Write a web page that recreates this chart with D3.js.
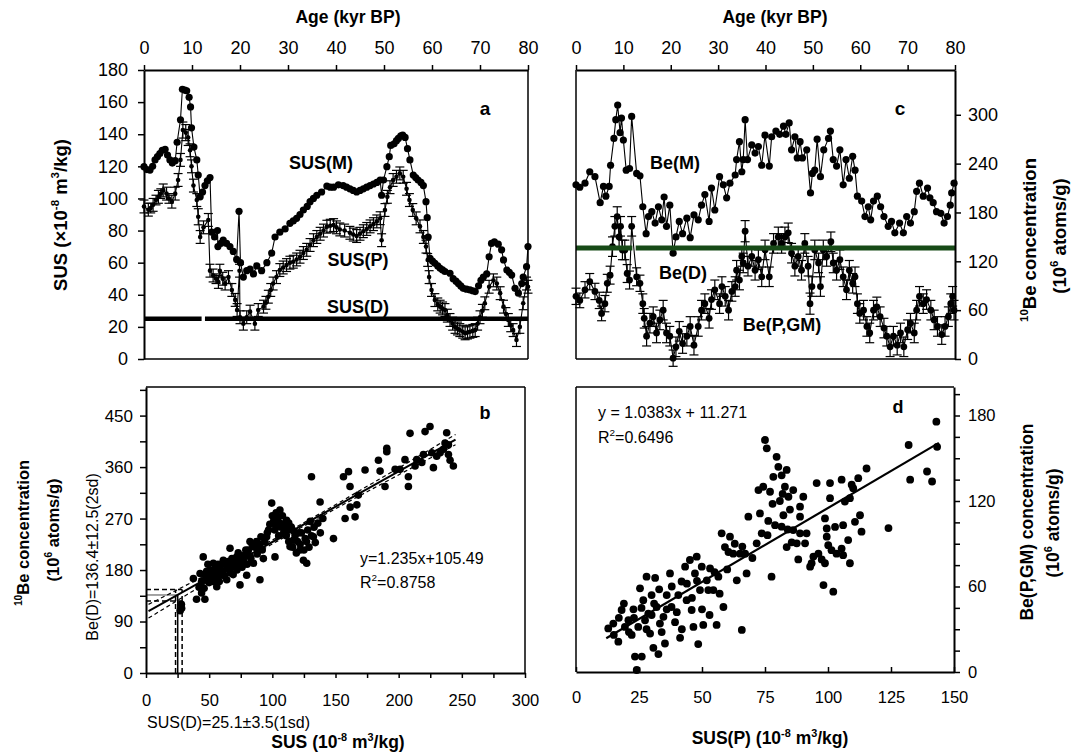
<!DOCTYPE html>
<html>
<head>
<meta charset="utf-8">
<script src="https://cdn.jsdelivr.net/npm/d3@7"></script>
<style>
body { margin: 0; background: #fff; }
</style>
</head>
<body>
<div id="canvas"></div>
<script>
// ---- data ----
// panel a: SUS(M) [age kyr, value]
var susM = [[0,119.8],[0.6,118],[1.25,117.7],[1.8,120],[2.3,124],[2.8,126],[3.3,128],[3.8,130],[4.4,130.6],[4.9,127],[5.4,124],[5.9,122],[6.5,123.5],[6.9,135],[7.6,149],[8.0,168],[8.5,167.5],[8.9,167],[9.4,163],[9.7,157],[9.9,144],[10.4,132],[11,124],[11.3,114.6],[11.7,101],[12.2,104],[12.7,108],[13.2,111],[13.75,113],[14.1,79],[14.7,76],[15.3,80],[15.4,70],[16,72],[16.5,74],[17.2,72],[17.9,70],[18.6,67],[19.3,62],[19.8,92],[20.1,60],[20.7,51],[21.4,55],[22.1,56],[22.8,53],[23.5,58],[24.5,55],[25.6,60],[26.6,66],[27.3,76],[28.3,79],[29.4,81],[30.4,84.5],[31.1,86],[31.8,87.6],[32.5,90],[33.2,92.8],[34,95],[34.6,98],[35.3,100],[36,102],[37,104],[38.1,107.7],[38.8,107],[39.5,107],[40.5,108.5],[41.5,108],[42.2,107],[42.9,106],[43.6,105],[44.3,104],[45,105],[45.7,106],[46.4,107],[47.1,108],[47.8,109],[48.5,110],[49.2,111.5],[49.5,102],[49.9,111.5],[50.6,119.8],[51.1,126],[51.4,133],[52.1,134],[52.6,136],[53,137.4],[53.5,139],[53.9,139.5],[54.4,138],[54.9,131],[55.4,124],[56.1,114.6],[56.6,113],[57.1,111.5],[57.7,110],[58.2,108],[58.75,98],[59,88],[59.2,76],[59.6,62.7],[60.1,61],[60.6,59.6],[61.2,58],[61.7,56.5],[62.2,55.5],[62.7,54.5],[63.75,53.4],[64.4,50],[65,48.5],[65.5,47],[66,45.5],[66.5,44],[67.2,43.5],[67.9,43],[68.5,42.5],[69,42],[69.7,45.6],[70.2,49],[70.7,51],[71.4,53],[71.9,63.7],[72.4,72],[73,73],[73.8,71.5],[74.5,68],[74.9,61.7],[75.6,55.4],[76.1,54],[76.6,52.3],[77.3,44],[78,41],[78.7,47],[79,51],[79.7,57.5],[80,70]];

// panel a: SUS(P) [age, value, error]
var susP = [[0,95,4],[0.9,93,4],[1.4,94,3],[1.9,96,4],[2.5,99,3],[3,101,4],[3.5,103,3],[4,105,4],[4.7,103,4],[5.2,100,3],[5.8,98,4],[6.5,103,4],[7.1,111.5,4],[7.6,124,4],[8.1,142.6,5],[8.7,141,5],[9.2,138,5],[9.6,130,4],[9.9,120,4],[10.3,108,4],[11,99,4],[11.3,88.6,5],[11.7,76,4],[12.4,82,4],[13.4,86.6,4],[13.75,55,4],[14.4,52,4],[15,50,3],[15.5,48,4],[15.8,55,4],[16.4,50,4],[16.9,47,4],[17.6,51,4],[18.3,43,4],[19,36.8,4],[19.4,30.5,4],[19.9,55,4],[20,26,4],[20.7,22,4],[21.4,26,4],[22.1,29.5,4],[23.1,22,4],[23.8,30.5,4],[24.9,32.6,4],[25.4,35,4],[25.9,38.8,4],[26.4,43,4],[26.9,47,4],[27.6,51,4],[28.3,55.4,4],[29,57,4],[29.7,58.5,4],[30.4,60,4],[31.1,60.6,4],[31.8,62,4],[32.5,63.7,4],[33.2,66,4],[33.9,68,4],[34.6,71,4],[35.3,74,4],[36,76,4],[36.7,78,4],[37.4,80,4],[38.1,82.4,4],[38.8,83,4],[39.5,83.4,4],[40.1,82,4],[40.8,80.7,4],[41.8,80,4],[42.9,78.6,4],[43.6,77.5,4],[44.3,76.6,4],[45,78,4],[45.7,79.6,4],[46.4,81,4],[47.1,82.6,4],[47.8,84,4],[48.5,85.7,4],[49.2,87.7,4],[49.5,74,4],[50.2,92.8,4],[50.7,101,4],[51.25,107,4],[51.9,111.5,4],[52.6,113.5,4],[53.3,115.6,4],[54,113.5,4],[54.7,106,4],[55.3,99,4],[56,92.8,4],[56.7,87.6,4],[57.5,82.6,4],[58.2,76,4],[58.75,70,4],[59.1,61.7,4],[59.4,51,4],[59.9,43,4],[60.6,36.7,4],[61.2,34,4],[61.7,32.6,4],[62.2,31.5,4],[62.7,30.5,4],[63.2,27,4],[63.75,24.3,4],[64.3,22,4],[64.8,20,4],[65.3,19,4],[65.8,18,4],[66.4,17,4],[66.9,16,4],[67.4,16.5,4],[67.9,17,4],[68.5,17.5,4],[69,18,4],[69.5,22,4],[70,26,4],[70.5,30,4],[71,34.7,4],[71.9,45,4],[72.8,49,4],[73.5,47,4],[74.2,41,4],[74.9,32.6,4],[75.4,28,4],[75.9,24.3,4],[76.4,21,4],[76.9,18,4],[77.6,11.8,4],[78.3,20,4],[79,34.7,4],[79.7,47,4],[80,45,4]];

var susD = 25.1;                       // SUS(D)
var susDSegments = [[0, 12], [12.7, 80]];

// panel c: Be(M) [age, value]
var beM = [[0,214],[0.8,211],[1.9,216],[2.9,230],[4,224],[5.1,192],[5.8,212],[6.3,200],[7,212],[7.3,238],[8,271],[8.4,294],[8.8,312],[9.3,278],[9.6,296],[10,269],[10.6,232],[11.3,234],[11.75,298],[12.8,228],[13.5,225],[14.1,187],[14.8,154],[15.3,175],[16,181],[16.7,167],[17.4,187],[18.1,171],[18.6,199],[19.1,163],[19.8,189],[20.5,130],[21.1,150],[21.8,169],[22.5,154],[23.4,173],[24.1,149],[24.9,177],[25.8,171],[26.5,189],[27.2,202],[28.1,169],[28.6,210],[29.3,183],[30.3,224],[31.1,214],[31.8,198],[32.5,216],[33.6,226],[33.9,245],[34.5,267],[35,230],[35.3,245],[35.7,294],[36.2,245],[37.1,263],[37.8,253],[38.5,261],[39.2,238],[39.9,275],[40.8,237],[41.3,273],[42.2,280],[43,276],[43.8,286],[44.3,276],[45,290],[45.5,257],[46.2,273],[46.7,247],[47.3,267],[47.8,247],[48.7,257],[49.5,204],[49.9,228],[50.4,232],[50.9,270],[51.6,224],[52.3,257],[53.3,271],[53.7,280],[54.3,245],[55,237],[55.7,257],[56.4,214],[57,245],[57.7,222],[58.4,249],[58.9,232],[59.4,200],[60.3,194],[61,175],[61.7,187],[62.2,171],[62.8,194],[63.6,200],[64.3,187],[65,175],[65.9,163],[66.6,169],[67.3,155],[68.3,167],[69.1,155],[69.8,175],[70.6,167],[71.4,181],[71.9,206],[72.5,216],[73.3,200],[74.2,210],[74.7,198],[75.4,192],[76.1,181],[77,179],[77.7,167],[78.4,175],[79,189],[79.3,204],[79.8,216]];

// panel c: Be(P,GM) [age, value, error]
var beP = [[0,77,10],[0.8,72,9],[1.9,85,10],[2.9,95,10],[4,83,10],[4.9,72,10],[5.4,56,9],[6.1,68,10],[6.6,93,11],[7.2,103,11],[7.7,138,12],[8.2,163,12],[8.7,175,12],[9.1,150,12],[9.4,163,12],[9.8,134,12],[10.3,134,12],[10.8,105,11],[11.3,97,11],[11.75,163,12],[12.8,101,11],[13.5,93,10],[14.1,68,12],[14.4,50,12],[14.9,28,12],[15.6,44,12],[16.3,52,12],[17,32,12],[17.7,48,12],[18.4,60,12],[19.1,32,12],[19.8,28,12],[20.5,1,10],[21.1,15,12],[21.8,34,12],[22.5,19,12],[23.4,28,12],[24.1,40,12],[24.9,17,12],[25.8,40,12],[26.5,60,12],[27.2,68,12],[28.1,50,12],[28.6,73,12],[29.3,85,12],[30.3,68,12],[30.8,89,12],[31.5,77,12],[32.2,60,12],[32.9,83,12],[33.6,89,12],[33.9,109,12],[34.5,97,12],[35,126,12],[35.3,118,12],[35.7,157,13],[36.3,114,12],[37.1,126,12],[37.8,109,12],[38.5,122,12],[39.2,101,12],[39.9,134,12],[40.8,101,12],[41.7,142,12],[42.7,150,12],[43.4,142,12],[44.1,150,12],[44.8,155,12],[45.5,130,12],[46.2,114,12],[46.9,126,12],[47.6,109,12],[48.3,142,12],[49,114,12],[49.4,68,13],[49.8,89,12],[50.4,134,12],[51.2,118,12],[51.6,89,12],[52.2,134,12],[52.9,126,12],[53.8,144,12],[54.3,118,12],[55,109,12],[55.7,122,12],[56.4,101,12],[57.1,85,12],[57.7,109,12],[58.4,93,12],[58.9,101,12],[59.4,68,12],[59.9,56,12],[60.7,60,12],[61.4,40,12],[62,32,12],[62.8,60,12],[63.5,64,12],[64.2,52,12],[65,38,12],[65.6,28,12],[66.3,15,12],[67,28,12],[67.8,17,12],[68.5,32,12],[69.2,15,12],[70,36,12],[70.6,44,12],[71.4,32,12],[71.9,60,12],[72.5,77,12],[73.3,68,12],[74,73,12],[74.9,60,12],[75.6,48,12],[76.3,40,12],[77.2,30,12],[77.9,40,12],[78.6,52,12],[79.1,68,12],[79.5,77,12],[79.8,60,12]];

var beD = 136.4;                       // Be(D)
var beDSegments = [[0, 11.9], [12.6, 80]];

// panel b: SUS vs 10Be [x, y]
var scatterB = [[27,109],[28,120],[28.2,113],[37.5,165],[40,129],[42,150],[42.8,174],[44,160],[44,140],[45.3,203],[46,148],[46.6,129],[47,170],[48,163],[48,178],[49,190],[50,158],[50.7,180],[51,172],[52,168],[53,160],[53.3,192],[54,175],[55,185],[55,170],[56,151],[57,165],[57,190],[58,160],[58.6,174],[59,180],[60,190],[61,178],[61.2,197],[62,170],[63,190],[63.9,163],[64,182],[65,195],[66,185],[66.5,218],[67,175],[68,200],[69,172],[69.2,186],[70,192],[71,195],[71.8,203],[72,180],[73,210],[74,188],[74.4,154],[75,195],[76,185],[76,205],[77,197],[78,205],[79,215],[79.7,171],[80,190],[81,215],[82,205],[82.3,230],[83,200],[84,225],[85,192],[86,220],[87.6,230],[88,208],[89,215],[90.2,163],[90,225],[91,238],[92.9,200],[92,215],[94,230],[95.5,238],[96,245],[97,250],[98,260],[99.5,297],[100.8,262],[100,275],[101,265],[102.1,203],[102,250],[103.4,256],[103,280],[104,270],[105,240],[106,285],[106,262],[107,255],[108.7,244],[108,275],[109,255],[110,260],[111.3,267],[111,240],[112,250],[113,230],[113,262],[114,221],[115,255],[116.6,232],[116,220],[117,248],[118,240],[119,210],[120,230],[121,245],[121.9,215],[122,225],[123,245],[124.6,197],[125,215],[126,235],[127.2,192],[127,230],[128,250],[129,220],[130,265],[131,343],[131,240],[132.5,238],[133,255],[134,228],[136,262],[137.8,299],[138,245],[140,270],[148.4,235],[156.3,343],[157.6,270],[160.3,352],[161.6,290],[161.5,326],[165.5,273],[166.9,294],[168.1,311],[173.4,355],[184,372],[185.3,353],[189.2,326],[190.6,393],[190.6,387],[197.2,356],[201.1,356],[205,373],[207.7,343],[207.7,326],[209,419],[213,362],[214.3,373],[218.3,368],[219.6,382],[220.9,422],[224.8,431],[226.2,385],[227.5,359],[230.1,379],[232.8,385],[235.4,391],[236.7,402],[238,420],[239.4,399],[239.4,382],[240.7,372],[243.3,362]];
var fitB = [1.235, 105.49];            // slope, intercept
var fitBRange = [2, 245];
var bandBX = [2, 60, 120, 180, 245];   // half width of the dashed band
var bandBHalf = [12, 6, 3, 5, 9];
var beDBand = [126, 146];
var susDBand = [23.4, 28.6];

// panel d: SUS(P) vs Be(P,GM) [x, y]
var scatterD = [[12.8,30.6],[14.8,34],[15,26],[16.8,21.3],[17,38],[18.1,43.5],[19,48],[19.4,31.6],[20.8,36.3],[21,28],[22.1,26],[22.8,44],[23,38],[23.4,10.8],[24.1,1.4],[24.7,31.6],[25.4,58.7],[26,45],[26.1,10.8],[26.7,50.4],[27.4,36.3],[28,66.9],[28,30],[28.7,41],[29.4,27],[30,54],[30,40],[30.7,17],[31,48],[31.4,66],[32,45.6],[32.7,12.6],[33,58],[33.3,34],[34,28],[34.7,38.7],[35.3,20],[36,54],[36,44],[37.3,69.2],[37.9,45.6],[38,60],[39.3,35],[40,42],[40.6,54],[41.3,24],[41.9,63.5],[42,30],[43.3,73.9],[43.9,50.4],[44,62],[45.2,78.6],[45.9,43.5],[46,52],[46.6,31.6],[47.2,69.2],[47.9,80.9],[48,64],[48.5,19.6],[49.2,57.5],[49.9,73.9],[50,44],[50.5,33],[51.9,64.3],[52.5,57.5],[53,40],[53.2,72.7],[54.5,57.5],[55,70],[55.8,33],[56.5,66.9],[57,55],[57.8,97.3],[58.5,45.6],[59.1,87.7],[60,72],[60.5,84.2],[61.1,95],[62.4,83],[63,90],[63.8,64.3],[65.1,83],[65.8,29.5],[66,88],[67.1,83],[67.7,69.2],[68.4,109],[70,80],[71.7,90.3],[72.4,127.7],[73,111.3],[73.7,97.3],[74.3,130],[75,162.8],[75.7,157],[76,96],[76.3,106],[77,126.5],[77.6,66.9],[78,118],[78.3,137],[79,103],[79.6,151],[80.3,144],[80.9,120],[81.6,138],[81.6,102],[82,125],[82.3,110],[82.9,130],[83.6,141.8],[83.6,87.7],[84,100],[84.3,123],[84.9,114],[85.6,91],[86.2,127.7],[86.2,99.6],[87.6,90.3],[88.2,79],[88.9,116],[88.9,97.3],[88.9,109],[90.2,123],[90.9,90.3],[91.5,97.3],[92.9,73.9],[93.5,76.3],[94.2,81],[95.5,132.6],[96.2,83],[97.5,79],[98.2,61],[98.8,76.3],[98.8,107.8],[99.5,100.7],[99.5,95],[100.1,89],[100.8,132.6],[100.8,122],[101.4,85.5],[102.1,56.4],[102.8,101.8],[103.4,83],[105.4,86.6],[105.4,135],[106,103],[106,82],[106.7,119.6],[108,92.6],[108.7,76.3],[108.7,122],[109.4,131.4],[110,129],[110.7,105.4],[112,136],[112.7,110],[113.3,98.5],[115.3,142.8],[124,101],[132,159.3],[132.6,135],[139.3,140.7],[141.3,133.7],[143,175.7],[143.3,158]];
var fitD = [1.0383, 11.271];
var fitDRange = [12, 144];

// tick values
var ageTicks = [0, 10, 20, 30, 40, 50, 60, 70, 80];
var susTicks = [0, 20, 40, 60, 80, 100, 120, 140, 160, 180];
var beTicksC = [0, 60, 120, 180, 240, 300];
var bXTicks = [0, 25, 50, 75, 100, 125, 150, 175, 200, 225, 250, 275, 300];
var bXLabels = [0, 50, 100, 150, 200, 250, 300];
var bYTicks = [0, 45, 90, 135, 180, 225, 270, 315, 360, 405, 450, 495];
var bYLabels = [0, 90, 180, 270, 360, 450];
var dXTicks = [0, 25, 50, 75, 100, 125, 150];
var dYTicks = [0, 15, 30, 45, 60, 75, 90, 105, 120, 135, 150, 165, 180, 195];
var dYLabels = [0, 60, 120, 180];

// ---- drawing ----
var font = '"Liberation Sans", Arial, Helvetica, sans-serif';
var svg = d3.select("#canvas").append("svg")
    .attr("width", 1071)
    .attr("height", 755)
    .style("font-family", font);

function styleAxis(g, size) {
    g.selectAll("text").attr("font-size", size).attr("font-family", font).attr("fill", "#000");
    g.selectAll(".tick line").attr("stroke", "#000").attr("stroke-width", 1.5);
    g.select(".domain").attr("stroke", "#000").attr("stroke-width", 2);
}

function hline(x1, x2, y, w, dash, col) {
    svg.append("line").attr("x1", x1).attr("x2", x2).attr("y1", y).attr("y2", y)
        .attr("stroke", col || "#000").attr("stroke-width", w).attr("stroke-dasharray", dash || null);
}
function vline(x, y1, y2, w, dash) {
    svg.append("line").attr("x1", x).attr("x2", x).attr("y1", y1).attr("y2", y2)
        .attr("stroke", "#000").attr("stroke-width", w).attr("stroke-dasharray", dash || null);
}

// text with superscripts: parts = [[str, isSup], ...]
function rich(x, y, parts, size, opts) {
    opts = opts || {};
    var t = svg.append("text")
        .attr("font-size", size)
        .attr("font-weight", opts.bold ? "bold" : "normal")
        .attr("text-anchor", opts.anchor || "start");
    if (opts.rotate) t.attr("transform", "translate(" + x + "," + y + ") rotate(-90)");
    else t.attr("x", x).attr("y", y);
    var shift = 0;
    parts.forEach(function (p) {
        var target = p[1] ? -size * 0.42 : 0;
        t.append("tspan")
            .attr("dy", target - shift)
            .attr("font-size", p[1] ? size * 0.62 : size)
            .text(p[0]);
        shift = target;
    });
    return t;
}

function drawLineDots(x, y, data, r, width) {
    svg.append("path").datum(data)
        .attr("fill", "none").attr("stroke", "#000").attr("stroke-width", width)
        .attr("d", d3.line().x(d => x(d[0])).y(d => y(d[1])));
    svg.append("g").selectAll("circle").data(data).join("circle")
        .attr("cx", d => x(d[0])).attr("cy", d => y(d[1])).attr("r", r).attr("fill", "#000");
}

function drawErrors(x, y, data, cap) {
    var g = svg.append("g").attr("stroke", "#000").attr("stroke-width", 1.2);
    data.forEach(function (d) {
        var cx = x(d[0]), lo = y(d[1] - d[2]), hi = y(d[1] + d[2]);
        g.append("line").attr("x1", cx).attr("x2", cx).attr("y1", lo).attr("y2", hi);
        g.append("line").attr("x1", cx - cap).attr("x2", cx + cap).attr("y1", lo).attr("y2", lo);
        g.append("line").attr("x1", cx - cap).attr("x2", cx + cap).attr("y1", hi).attr("y2", hi);
    });
}

// ===== panel a =====
var xA = d3.scaleLinear().domain([0, 80]).range([144, 528]);
var yA = d3.scaleLinear().domain([0, 180]).range([359, 70]);

susDSegments.forEach(function (s) {
    svg.append("line").attr("x1", xA(s[0])).attr("x2", xA(s[1]))
        .attr("y1", yA(susD)).attr("y2", yA(susD))
        .attr("stroke", "#000").attr("stroke-width", 4.5);
});
drawErrors(xA, yA, susP, 4.5);
drawLineDots(xA, yA, susP, 2.3, 1.1);
drawLineDots(xA, yA, susM, 3.6, 1.1);

hline(144, 528, 359, 1.5);
vline(528, 70, 359, 1.5);
var axA = svg.append("g").attr("transform", "translate(0,70)")
    .call(d3.axisTop(xA).tickValues(ageTicks).tickSize(5).tickSizeOuter(0).tickPadding(11));
styleAxis(axA, 18);
var ayA = svg.append("g").attr("transform", "translate(144,0)")
    .call(d3.axisLeft(yA).tickValues(susTicks).tickSize(6).tickSizeOuter(0).tickPadding(10));
styleAxis(ayA, 18);

rich(348, 23, [["Age (kyr BP)", 0]], 17.5, { bold: true, anchor: "middle" });
rich(67, 215, [["SUS (\u00d710", 0], ["-8", 1], [" m", 0], ["3", 1], ["/kg)", 0]], 18.5, { bold: true, anchor: "middle", rotate: true });
rich(485, 115, [["a", 0]], 19, { bold: true, anchor: "middle" });
rich(321, 169, [["SUS(M)", 0]], 18, { bold: true, anchor: "middle" });
rich(358, 266, [["SUS(P)", 0]], 18, { bold: true, anchor: "middle" });
rich(358, 313, [["SUS(D)", 0]], 18, { bold: true, anchor: "middle" });

// ===== panel c =====
var xC = d3.scaleLinear().domain([0, 80]).range([576, 955]);
var yC = d3.scaleLinear().domain([0, 355]).range([359, 70]);

drawLineDots(xC, yC, beM, 3.6, 1.1);
drawErrors(xC, yC, beP, 4.5);
drawLineDots(xC, yC, beP, 3.4, 1.1);
beDSegments.forEach(function (s) {
    svg.append("line").attr("x1", xC(s[0])).attr("x2", xC(s[1]))
        .attr("y1", yC(beD)).attr("y2", yC(beD))
        .attr("stroke", "#174a17").attr("stroke-width", 5);
});

hline(576, 955, 359, 1.5);
vline(576, 70, 359, 1.5);
var axC = svg.append("g").attr("transform", "translate(0,70)")
    .call(d3.axisTop(xC).tickValues(ageTicks).tickSize(5).tickSizeOuter(0).tickPadding(11));
styleAxis(axC, 18);
var ayC = svg.append("g").attr("transform", "translate(955,0)")
    .call(d3.axisRight(yC).tickValues(beTicksC).tickSize(6).tickSizeOuter(0).tickPadding(7));
styleAxis(ayC, 18);

rich(775, 23, [["Age (kyr BP)", 0]], 17.5, { bold: true, anchor: "middle" });
rich(900, 115, [["c", 0]], 19, { bold: true, anchor: "middle" });
rich(675, 169, [["Be(M)", 0]], 18, { bold: true, anchor: "middle" });
rich(683, 279, [["Be(D)", 0]], 18, { bold: true, anchor: "middle" });
rich(782, 331, [["Be(P,GM)", 0]], 18, { bold: true, anchor: "middle" });
rich(1036, 240, [["10", 1], ["Be concentration", 0]], 18.5, { bold: true, anchor: "middle", rotate: true });
rich(1066, 236, [["(10", 0], ["6", 1], [" atoms/g)", 0]], 18.5, { bold: true, anchor: "middle", rotate: true });

// ===== panel b =====
var xB = d3.scaleLinear().domain([0, 300]).range([146, 525]);
var yB = d3.scaleLinear().domain([0, 500]).range([673, 387]);

// SUS(D) / Be(D) guide lines
hline(xB(0), xB(susD), yB(beD), 1.2, null, "#666");
beDBand.forEach(function (v) { hline(xB(0), xB(susDBand[1]), yB(v), 1.5, "5,3"); });
vline(xB(susD), yB(0), yB(beD), 1.5);
susDBand.forEach(function (v) { vline(xB(v), yB(0), yB(beDBand[1]), 1.5, "5,3"); });

svg.append("g").selectAll("circle").data(scatterB).join("circle")
    .attr("cx", d => xB(d[0])).attr("cy", d => yB(d[1])).attr("r", 3.8).attr("fill", "#000");

svg.append("line")
    .attr("x1", xB(fitBRange[0])).attr("y1", yB(fitB[0] * fitBRange[0] + fitB[1]))
    .attr("x2", xB(fitBRange[1])).attr("y2", yB(fitB[0] * fitBRange[1] + fitB[1]))
    .attr("stroke", "#000").attr("stroke-width", 2);
[1, -1].forEach(function (sgn) {
    svg.append("path").datum(bandBX)
        .attr("fill", "none").attr("stroke", "#000").attr("stroke-width", 1.2).attr("stroke-dasharray", "4,3")
        .attr("d", d3.line()
            .x(d => xB(d))
            .y((d, i) => yB(fitB[0] * d + fitB[1] + sgn * bandBHalf[i]))
            .curve(d3.curveMonotoneX));
});

hline(146, 525, 387, 1.5);
vline(525, 387, 673, 1.5);
var axB = svg.append("g").attr("transform", "translate(0,673)")
    .call(d3.axisBottom(xB).tickValues(bXTicks).tickSize(5).tickSizeOuter(0).tickPadding(16)
        .tickFormat(d => bXLabels.indexOf(d) >= 0 ? d : ""));
styleAxis(axB, 16.5);
var ayB = svg.append("g").attr("transform", "translate(146,0)")
    .call(d3.axisLeft(yB).tickValues(bYTicks).tickSize(6).tickSizeOuter(0).tickPadding(7)
        .tickFormat(d => bYLabels.indexOf(d) >= 0 ? d : ""));
styleAxis(ayB, 17);

rich(485, 419, [["b", 0]], 18, { bold: true, anchor: "middle" });
rich(360, 564, [["y=1.235x+105.49", 0]], 16);
rich(360, 588, [["R", 0], ["2", 1], ["=0.8758", 0]], 16);
rich(29, 533, [["10", 1], ["Be concentration", 0]], 16.5, { bold: true, anchor: "middle", rotate: true });
rich(59, 530, [["(10", 0], ["6", 1], [" atoms/g)", 0]], 16.5, { bold: true, anchor: "middle", rotate: true });
rich(98, 557, [["Be(D)=136.4\u00b112.5(2sd)", 0]], 16, { anchor: "middle", rotate: true });
rich(147, 728, [["SUS(D)=25.1\u00b13.5(1sd)", 0]], 16);
rich(338, 748, [["SUS (10", 0], ["-8", 1], [" m", 0], ["3", 1], ["/kg)", 0]], 17.5, { bold: true, anchor: "middle" });

// ===== panel d =====
var xD = d3.scaleLinear().domain([0, 150]).range([576, 954]);
var yD = d3.scaleLinear().domain([0, 200]).range([672, 387]);

svg.append("g").selectAll("circle").data(scatterD).join("circle")
    .attr("cx", d => xD(d[0])).attr("cy", d => yD(d[1])).attr("r", 3.9).attr("fill", "#000");
svg.append("line")
    .attr("x1", xD(fitDRange[0])).attr("y1", yD(fitD[0] * fitDRange[0] + fitD[1]))
    .attr("x2", xD(fitDRange[1])).attr("y2", yD(fitD[0] * fitDRange[1] + fitD[1]))
    .attr("stroke", "#000").attr("stroke-width", 2.2);

hline(576, 954, 387, 1.5);
vline(576, 387, 672, 1.5);
var axD = svg.append("g").attr("transform", "translate(0,672)")
    .call(d3.axisBottom(xD).tickValues(dXTicks).tickSizeInner(-5).tickSizeOuter(0).tickPadding(19));
styleAxis(axD, 16.5);
var ayD = svg.append("g").attr("transform", "translate(954,0)")
    .call(d3.axisRight(yD).tickValues(dYTicks).tickSize(6).tickSizeOuter(0).tickPadding(8)
        .tickFormat(d => dYLabels.indexOf(d) >= 0 ? d : ""));
styleAxis(ayD, 16.5);

rich(898, 413, [["d", 0]], 18, { bold: true, anchor: "middle" });
rich(598, 418, [["y = 1.0383x + 11.271", 0]], 16);
rich(598, 443, [["R", 0], ["2", 1], ["=0.6496", 0]], 16);
rich(1033, 522, [["Be(P,GM) concentration", 0]], 17.5, { bold: true, anchor: "middle", rotate: true });
rich(1059, 523, [["(10", 0], ["6", 1], [" atoms/g)", 0]], 17.5, { bold: true, anchor: "middle", rotate: true });
rich(770, 744, [["SUS(P) (10", 0], ["-8", 1], [" m", 0], ["3", 1], ["/kg)", 0]], 17.5, { bold: true, anchor: "middle" });
</script>
</body>
</html>
